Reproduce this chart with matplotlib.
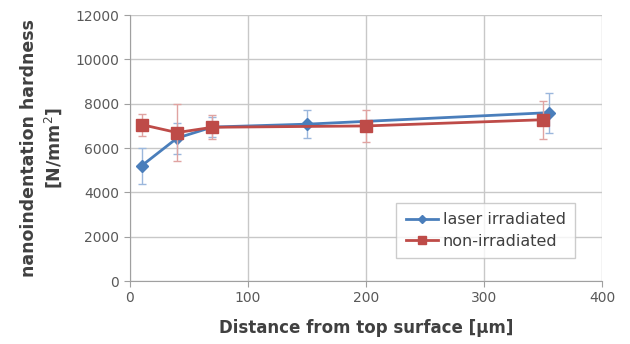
import matplotlib
matplotlib.use("Agg")
import matplotlib.pyplot as plt
from matplotlib.lines import Line2D

# Depth below the top surface (µm) and measured hardness (N/mm²) with std. deviation
laser_x = [10, 40, 70, 150, 355]
laser_y = [5200, 6450, 6950, 7080, 7600]
laser_err = [800, 700, 450, 620, 900]

non_x = [10, 40, 70, 200, 350]
non_y = [7060, 6700, 6940, 7000, 7280]
non_err = [500, 1300, 550, 720, 850]

x_ticks = [0, 100, 200, 300, 400]
y_ticks = [0, 2000, 4000, 6000, 8000, 10000, 12000]

blue = "#4a7ebb"
red = "#be4b48"
grid_col = "#c8c8c8"
text_col = "#595959"

fig = plt.figure(figsize=(6.3, 3.44), dpi=100)
ax = fig.add_axes([0.206, 0.183, 0.750, 0.773])

ax.errorbar(laser_x, laser_y, yerr=laser_err, color=blue, marker="D", markersize=6,
            linewidth=2, ecolor="#9bb7dc", elinewidth=1, capsize=3, capthick=1, zorder=3)
ax.errorbar(non_x, non_y, yerr=non_err, color=red, marker="s", markersize=9,
            linewidth=2, ecolor="#e0a3a1", elinewidth=1, capsize=3, capthick=1, zorder=4)

ax.set_xlim(0, 400)
ax.set_ylim(0, 12000)
ax.set_xticks(x_ticks)
ax.set_yticks(y_ticks)
ax.grid(True, color=grid_col, linewidth=1)
ax.set_axisbelow(True)
for side in ("top", "right"):
    ax.spines[side].set_visible(False)
for side in ("left", "bottom"):
    ax.spines[side].set_color("#a0a0a0")
ax.tick_params(axis="both", colors="#a0a0a0", labelcolor=text_col, labelsize=10, length=4)

ax.set_xlabel("Distance from top surface [µm]", fontsize=12, fontweight="bold",
              color="#404040", labelpad=10)
ax.set_ylabel("nanoindentation hardness\n[N/mm$^2$]", fontsize=12.5, fontweight="bold",
              color="#404040", labelpad=8, linespacing=1.3)

handles = [
    Line2D([], [], color=blue, marker="D", markersize=4, linewidth=2),
    Line2D([], [], color=red, marker="s", markersize=6, linewidth=2),
]
leg = ax.legend(handles, ["laser irradiated", "non-irradiated"], loc="lower right",
                bbox_to_anchor=(0.96, 0.055), fontsize=11.5, frameon=True,
                fancybox=False, edgecolor="#c0c0c0", handlelength=2.0,
                handletextpad=0.3, borderpad=0.6, labelspacing=0.4)
leg.get_frame().set_linewidth(1)
for t in leg.get_texts():
    t.set_color("#404040")

fig.savefig("out.png", dpi=100)
